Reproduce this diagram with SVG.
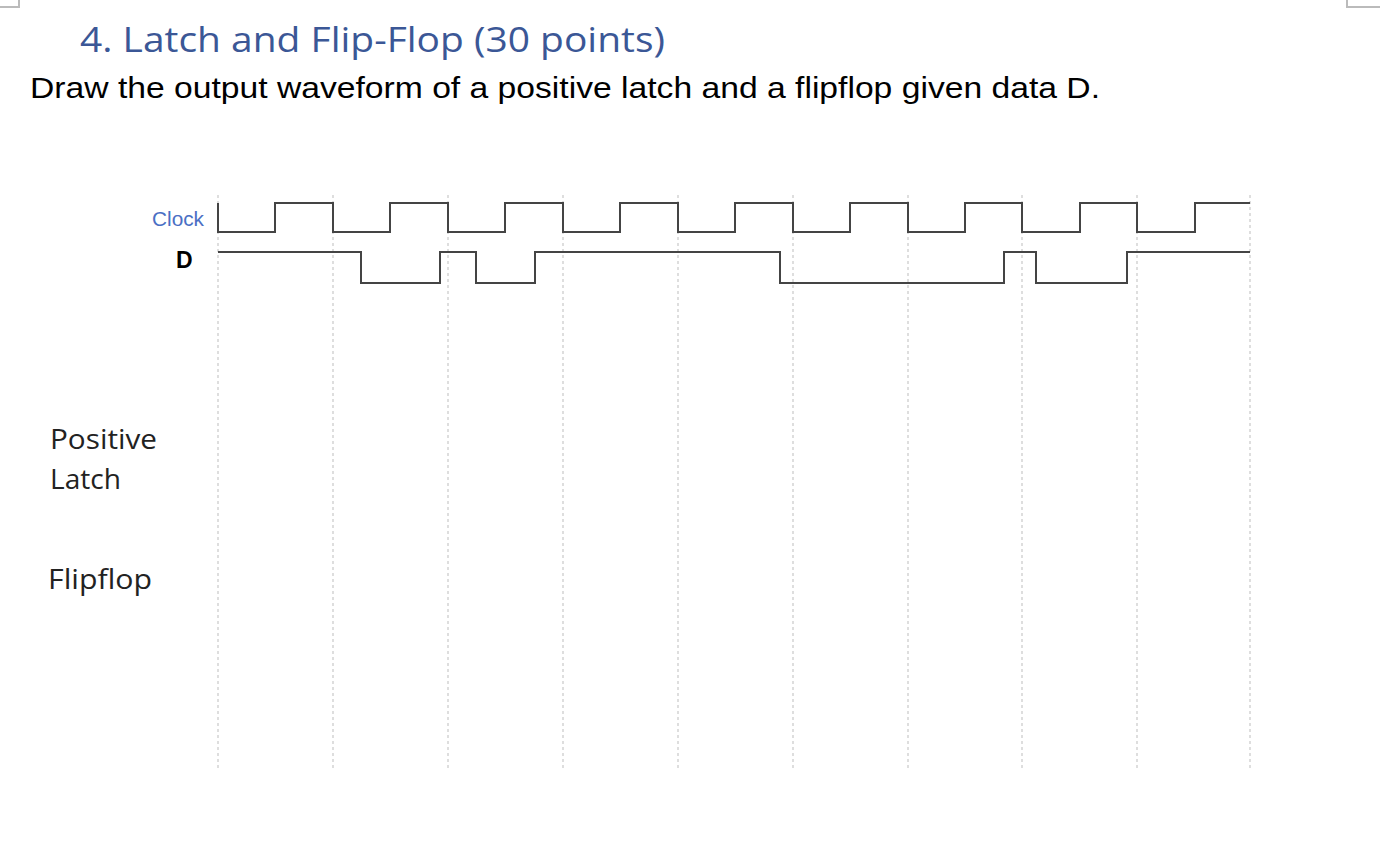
<svg xmlns="http://www.w3.org/2000/svg" width="1380" height="861" viewBox="0 0 1380 861">
<style>
.grid{stroke:#c8c8c8;stroke-width:1.2;stroke-dasharray:3 3;fill:none}
.wave{stroke:#444;stroke-width:2;fill:none}
.lbl{font-family:"Open Sans","Liberation Sans",sans-serif;font-size:27px;fill:#222}
</style>
<rect width="1380" height="861" fill="#fff"/>
<path d="M0 7H19V0M1380 7H1347V0" stroke="#bbb" stroke-width="2" fill="none"/>
<text x="80" y="52" font-family="Open Sans,Liberation Sans,sans-serif" font-size="35" fill="#3b5796" textLength="585" lengthAdjust="spacingAndGlyphs">4. Latch and Flip-Flop (30 points)</text>
<text x="30" y="98" font-family="Liberation Sans,Arial,sans-serif" font-size="30" fill="#000" textLength="1070" lengthAdjust="spacingAndGlyphs">Draw the output waveform of a positive latch and a flipflop given data D.</text>
<g id="grid">
<path class="grid" d="M218 195V768M333 195V768M448 195V768M563 195V768M678 195V768M793 195V768M908 195V768M1022 195V768M1137 195V768M1250 195V768"/>
</g>
<g id="labels">
<text x="152" y="226" font-family="Liberation Sans,Arial,sans-serif" font-size="21" fill="#4a6fc4" textLength="52" lengthAdjust="spacingAndGlyphs">Clock</text>
<text x="176" y="268" font-family="Liberation Sans,Arial,sans-serif" font-size="23" font-weight="bold" fill="#000">D</text>
<text class="lbl" x="50" y="449" textLength="107" lengthAdjust="spacingAndGlyphs">Positive</text>
<text class="lbl" x="50" y="489" textLength="71" lengthAdjust="spacingAndGlyphs">Latch</text>
<text class="lbl" x="48" y="589" textLength="104" lengthAdjust="spacingAndGlyphs">Flipflop</text>
</g>
<g id="connectors">
<path id="clock" class="wave" d="M218 203V232H275V203H333V232H390V203H448V232H505V203H563V232H620V203H678V232H735V203H793V232H850V203H908V232H965V203H1022V232H1080V203H1137V232H1195V203H1250"/>
<path id="d" class="wave" d="M218 252H361V283H440V252H476V283H535V252H780V283H1004V252H1036V283H1127V252H1250"/>
</g>
</svg>
